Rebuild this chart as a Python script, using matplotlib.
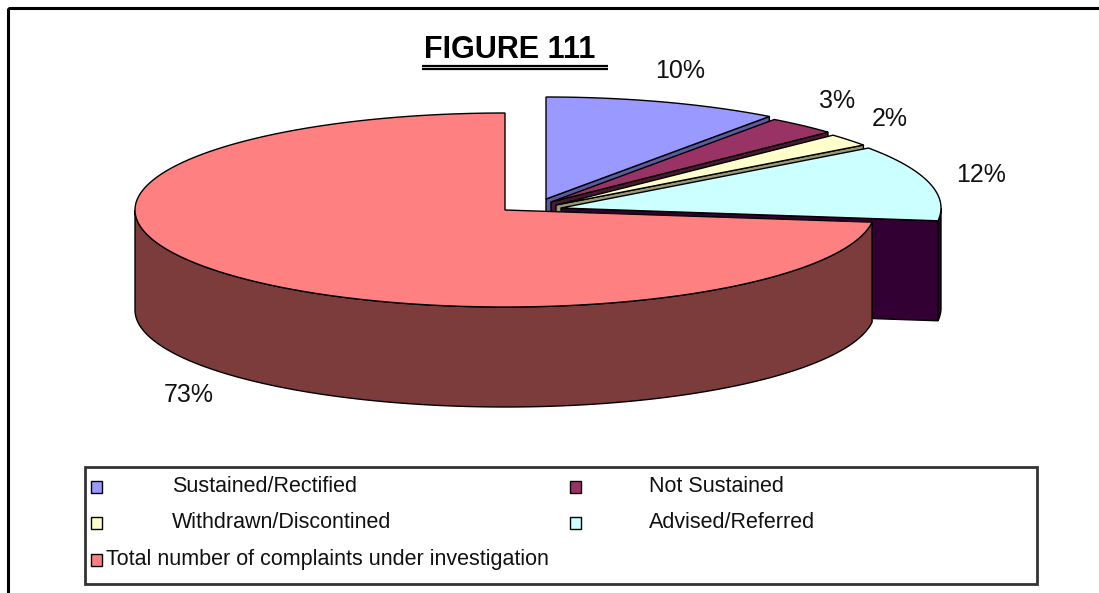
import numpy as np
import matplotlib
matplotlib.use('Agg')
import matplotlib.pyplot as plt
from matplotlib.patches import Polygon, Rectangle

######## DATA ############
labels = ['Sustained/Rectified', 'Not Sustained', 'Withdrawn/Discontined',
          'Advised/Referred', 'Total number of complaints under investigation']
values = [10, 3, 2, 12, 73]
topColours = ['#9999FF', '#993366', '#FFFFCC', '#CCFFFF', '#FF8080']
sideColours = ['#5a5a9c', '#4a1830', '#9a9874', '#330033', '#7c3c3c']
title = 'FIGURE 111'
##########################

plt.rcParams['font.family'] = ['Liberation Sans', 'DejaVu Sans']

fig = plt.figure(figsize=(10.99, 5.93), dpi=100)
ax = fig.add_axes([0, 0, 1, 1])
ax.set_xlim(0, 1099)
ax.set_ylim(593, 0)
ax.axis('off')

# pie geometry (pixel space, y down)
depth = 100
redCentre = (505, 210, 370, 97)
restCentre = (546, 199, 380, 102)
step = (5, 3)
kx, ky = 1.14, 1.32


def ellPt(cx, cy, rx, ry, deg, dz=0):
    t = np.radians(deg)
    return cx + rx * np.cos(t), cy - ry * np.sin(t) + dz


def arc(cx, cy, rx, ry, a0, a1, dz=0):
    n = max(int(abs(a0 - a1) * 2), 2)
    ts = np.linspace(a0, a1, n)
    return [ellPt(cx, cy, rx, ry, t, dz) for t in ts]


def drawPoly(pts, colour, z):
    ax.add_patch(Polygon(pts, closed=True, facecolor=colour, edgecolor='black',
                         linewidth=1.0, joinstyle='miter', zorder=z))


total = float(sum(values))
start = 90.0
z = 1
for i, (v, top, side) in enumerate(zip(values, topColours, sideColours)):
    a0 = start
    a1 = start - v / total * 360.0
    start = a1
    if i == len(values) - 1:
        cx, cy, rx, ry = redCentre
    else:
        cx = restCentre[0] + step[0] * i
        cy = restCentre[1] + step[1] * i
        rx, ry = restCentre[2], restCentre[3]

    # outer wall on the front half
    lo, hi = max(a1, -180.0), min(a0, 0.0)
    if hi > lo:
        pts = arc(cx, cy, rx, ry, hi, lo) + arc(cx, cy, rx, ry, lo, hi, depth)
        drawPoly(pts, side, z)
        z += 1
    # radial wall at the clockwise edge
    if np.cos(np.radians(a1)) > 1e-6:
        ex, ey = ellPt(cx, cy, rx, ry, a1)
        drawPoly([(cx, cy), (ex, ey), (ex, ey + depth), (cx, cy + depth)], side, z)
        z += 1
    # top face
    drawPoly([(cx, cy)] + arc(cx, cy, rx, ry, a0, a1), top, z)
    z += 1

    # percentage label
    mid = (a0 + a1) / 2.0
    lx, ly = ellPt(cx, cy, rx * kx, ry * ky, mid)
    if np.sin(np.radians(mid)) < 0:
        ly += depth
    ax.text(lx, ly, '%d%%' % round(v / total * 100), fontsize=18,
            color='#111111', ha='center', va='center', zorder=100)

# title with double underline
t = ax.text(510, 50, title, fontsize=22, fontweight='bold', ha='center',
            va='center', zorder=100)
fig.canvas.draw()
bb = t.get_window_extent().transformed(ax.transData.inverted())
ux0, ux1 = min(bb.x0, bb.x1) - 2, max(bb.x0, bb.x1) + 12
uy = max(bb.y0, bb.y1)
ax.plot([ux0, ux1], [uy + 1, uy + 1], color='black', lw=1.6, solid_capstyle='butt')
ax.plot([ux0, ux1], [uy + 4, uy + 4], color='black', lw=1.6, solid_capstyle='butt')

# chart frame (continues past the cropped edge)
ax.add_patch(Rectangle((8, 8), 1300, 800, fill=False, edgecolor='black', lw=2.2, zorder=0))

# legend
ax.add_patch(Rectangle((85, 467), 952, 117, fill=False, edgecolor='#333333', lw=2.0, zorder=50))
legRows = [487, 487, 523, 523, 560]
legMarkX = [91, 570, 91, 570, 91]
legTextX = [172, 649, 172, 649, 106]
for lab, col, yy, mx, tx in zip(labels, topColours, legRows, legMarkX, legTextX):
    ax.add_patch(Rectangle((mx, yy - 6), 11, 12, facecolor=col, edgecolor='black',
                           lw=1.0, zorder=60))
    ax.text(tx, yy, lab, fontsize=15.5, ha='left', va='center', color='#111111', zorder=60)

plt.savefig('out.png', dpi=100)
